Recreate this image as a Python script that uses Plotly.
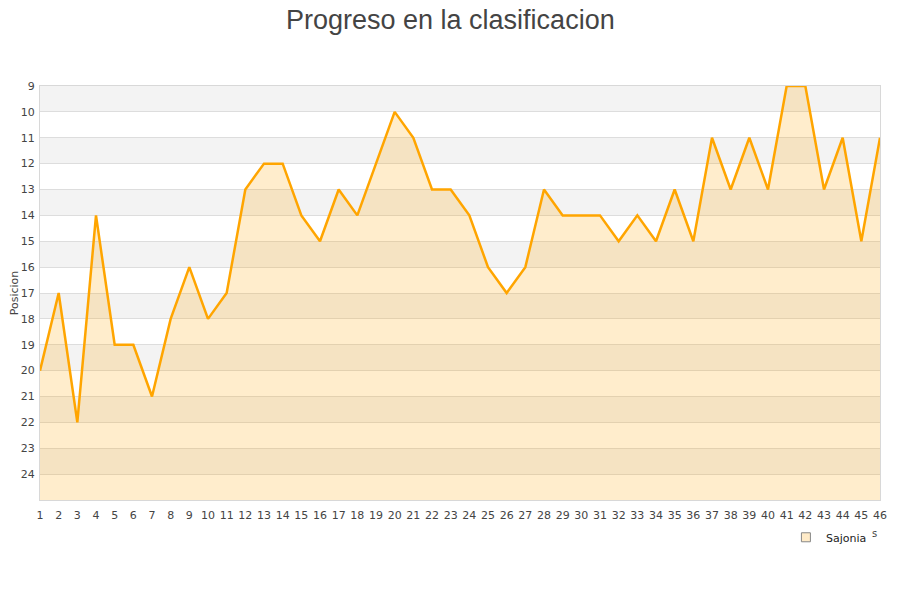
import plotly.graph_objects as go

# Jornadas y posicion de Sajonia
jornadas = list(range(1, 47))
posiciones = [20, 17, 22, 14, 19, 19, 21, 18, 16, 18,
              17, 13, 12, 12, 14, 15, 13, 14, 12, 10,
              11, 13, 13, 14, 16, 17, 16, 13, 14, 14,
              14, 15, 14, 15, 13, 15, 11, 13, 11, 13,
              9, 9, 13, 11, 15, 11]
equipo = "Sajonia"
y_ticks = list(range(9, 25))
y_min, y_max = 9, 25

fig = go.Figure()

# base invisible para rellenar hasta el fondo del eje invertido
fig.add_trace(go.Scatter(
    x=jornadas, y=[y_max] * len(jornadas),
    mode="lines", line=dict(width=0),
    showlegend=False, hoverinfo="skip"
))
fig.add_trace(go.Scatter(
    x=jornadas, y=posiciones, name=equipo,
    mode="lines", fill="tonexty",
    fillcolor="rgba(255,165,0,0.2)",
    line=dict(color="#FFA500", width=2.5),
    showlegend=False
))
# entrada de leyenda con cuadro
fig.add_trace(go.Scatter(
    x=[None], y=[None], name=equipo, mode="markers",
    marker=dict(symbol="square", size=9, color="#FFEBC8",
                line=dict(color="#888888", width=1))
))

# bandas alternas del fondo
for v in range(y_min, y_max, 2):
    fig.add_shape(type="rect", xref="paper", yref="y",
                  x0=0, x1=1, y0=v, y1=v + 1,
                  fillcolor="#F3F3F3", line_width=0, layer="below")

# resto del titulo del eje x que asoma en la esquina
fig.add_annotation(text="s", xref="paper", yref="paper", x=0.994, y=-0.08,
                   xanchor="center", yanchor="middle", showarrow=False,
                   font=dict(size=10, color="#444444"))

# la pagina tiene 8px de margen: se compensa en los margenes
fig.update_layout(
    width=900, height=600,
    paper_bgcolor="white", plot_bgcolor="rgba(0,0,0,0)",
    margin=dict(l=32, r=28, t=78, b=108),
    title=dict(text="Progreso en la clasificacion", x=0.4915, y=1 - 2 / 600,
               xanchor="center", yanchor="top", pad=dict(t=0),
               font=dict(family="Liberation Sans, Arial", size=27, color="#444444")),
    font=dict(family="DejaVu Sans", size=11, color="#444444"),
    showlegend=True,
    legend=dict(x=0.888, y=-0.055, xanchor="left", yanchor="top",
                font=dict(size=11, color="#222222"), bgcolor="rgba(0,0,0,0)",
                itemwidth=30),
    xaxis=dict(range=[1, 46], tickmode="array", tickvals=jornadas,
               showgrid=False, zeroline=False, ticks="outside", ticklen=5,
               tickcolor="rgba(0,0,0,0)", automargin=False,
               showline=True, linecolor="#D8D8D8", mirror=True,
               tickfont=dict(size=11)),
    yaxis=dict(range=[y_max, y_min], tickmode="array", tickvals=y_ticks,
               showgrid=True, gridcolor="#DDDDDD", zeroline=False,
               automargin=False, ticks="outside", ticklen=2,
               tickcolor="rgba(0,0,0,0)",
               showline=True, linecolor="#D8D8D8", mirror=True,
               title=dict(text="Posicion", font=dict(size=11), standoff=4),
               tickfont=dict(size=11)),
)

fig.write_html("out.html")
